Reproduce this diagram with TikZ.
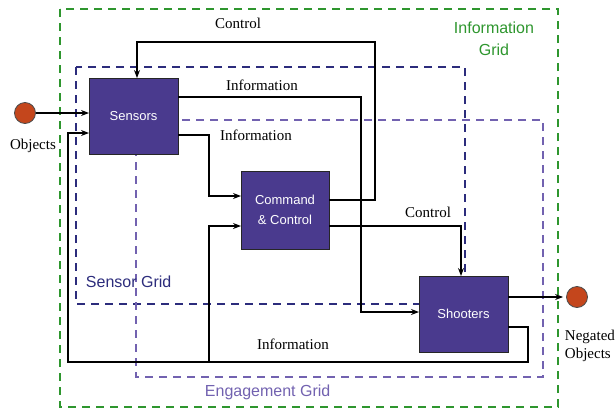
\documentclass[tikz,border=0pt]{standalone}
\usepackage{fontspec}
\setmainfont{Liberation Serif}
\setsansfont{Liberation Sans}
\usetikzlibrary{arrows.meta}
\definecolor{boxFill}{HTML}{4A3A8E}
\definecolor{dotFill}{HTML}{C4461C}
\definecolor{infColor}{HTML}{2E962E}
\definecolor{senColor}{HTML}{2C2C7C}
\definecolor{engColor}{HTML}{7262B0}
\tikzset{
	unit/.style={draw=black!85, line width=0.8pt, fill=boxFill, text=white,
		font=\sffamily\fontsize{13}{20}\selectfont, inner sep=0, outer sep=0,
		align=center, minimum width=89pt, minimum height=76pt},
	ball/.style={circle, draw=black!70, line width=0.8pt, fill=dotFill, minimum size=21pt, inner sep=0},
	lbl/.style={font=\fontsize{15}{18}\selectfont},
	glbl/.style={font=\sffamily\fontsize{16}{22}\selectfont},
	grid/.style={-, line width=1.6pt, dash pattern=on 8pt off 6pt}
}

\begin{document}
\begin{tikzpicture}[x=1pt, y=-1pt, ->, >={Stealth[length=8pt,width=6pt]}, line width=1.2pt]
	\useasboundingbox (0,0) rectangle (616,410);
	% grids
	\draw[grid, infColor] (60,9) rectangle (558,407);
	\draw[grid, senColor] (76,67) rectangle (465,304);
	\draw[grid, engColor] (136,120) rectangle (543,377);
	\node[glbl, text=infColor, align=center] (infgrid) at (494,39) {Information\\Grid};
	\node[glbl, text=senColor, anchor=west] (sengrid) at (82,282) {Sensor Grid};
	\node[glbl, text=engColor, anchor=west] (enggrid) at (201,392) {Engagement Grid};
	
	\node[unit] (sen) at (133.5,116) {Sensors};
	\node[unit, minimum width=88pt, minimum height=78pt] (cc) at (285,210) {Command\\\& Control};
	\node[unit] (sho) at (463.5,314) {Shooters};
	\node[ball] (obj) at (25,113) {};
	\node[ball] (neg) at (577,297) {};
	
	\node[lbl] (ctl1) at (238,23) {Control};
	\node[lbl] (inf1) at (262,85) {Information};
	\node[lbl] (inf2) at (256,135) {Information};
	\node[lbl] (ctl2) at (428,212) {Control};
	\node[lbl] (inf3) at (293,344) {Information};
	\node[lbl] (objlbl) at (33,146) {Objects};
	\node[lbl, align=left, anchor=north west] (neglbl) at (561,326) {Negated\\Objects};
	
	\draw (obj) -- (obj -| sen.west);
	\draw (sen.east |- 0,97) -| (361,312) -- (sho.west |- 0,312);
	\draw (sen.east |- 0,135) -| (209,196) -- (cc.west |- 0,196);
	\draw (cc.east |- 0,200) -| (375,42) -| (sen.north -| 137,0);
	\draw (cc.east |- 0,226) -| (sho.north -| 461,0);
	\draw[shorten >=3pt] (sho.east |- neg) -- (neg);
	\draw (sho.east |- 0,327) -| (528,362) -| (68,133) -- (sen.west |- 0,133);
	\draw (209,362) |- (cc.west |- 0,226);
\end{tikzpicture}
\end{document}
